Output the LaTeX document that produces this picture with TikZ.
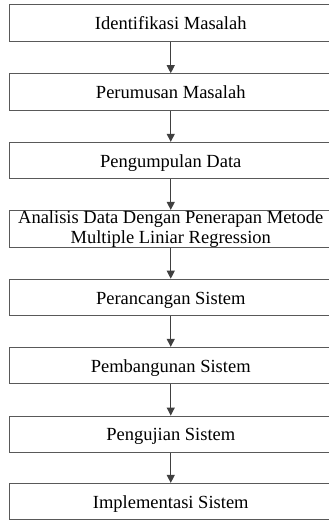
\documentclass[tikz,border=0pt]{standalone}
\usepackage{fontspec}
\setmainfont{Liberation Serif}
\usetikzlibrary{arrows.meta}
\begin{document}
\begin{tikzpicture}[x=1pt,y=-1pt,
  stepbox/.style={draw=black!65, line width=1.1pt, rectangle, minimum width=322.5pt, minimum height=36.5pt, inner sep=0pt, align=center, font=\fontsize{18.5}{20}\selectfont, text=black},
  oneline/.style={text height=13pt, text depth=0pt},
  flow/.style={draw=black!75, line width=1pt, -{Triangle[length=8pt,width=8pt]}}]
\useasboundingbox (0,0) rectangle (329,520);
\fill[white] (0,0) rectangle (329,520);
\node[stepbox,oneline] (b1) at (170.75,22.85) {Identifikasi Masalah};
\node[stepbox,oneline] (b2) at (170.75,92) {Perumusan Masalah};
\node[stepbox,oneline] (b3) at (170.75,160.65) {Pengumpulan Data};
\node[stepbox] (b4) at (170.75,228.85) {Analisis Data Dengan Penerapan Metode\\Multiple Liniar Regression};
\node[stepbox,oneline] (b5) at (170.75,297.5) {Perancangan Sistem};
\node[stepbox,oneline] (b6) at (170.75,365.65) {Pembangunan Sistem};
\node[stepbox,oneline] (b7) at (170.75,434.35) {Pengujian Sistem};
\node[stepbox,oneline] (b8) at (170.75,501.7) {Implementasi Sistem};
\draw[flow] (b1) -- (b2);
\draw[flow] (b2) -- (b3);
\draw[flow] (b3) -- (b4);
\draw[flow] (b4) -- (b5);
\draw[flow] (b5) -- (b6);
\draw[flow] (b6) -- (b7);
\draw[flow] (b7) -- (b8);
\end{tikzpicture}
\end{document}
